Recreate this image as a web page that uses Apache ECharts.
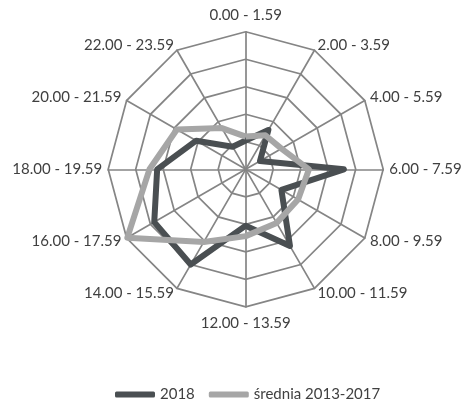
<!DOCTYPE html>
<html>
<head>
<meta charset="utf-8">
<script src="https://cdn.jsdelivr.net/npm/echarts@6/dist/echarts.min.js"></script>
<style>
  html, body { margin: 0; padding: 0; background: #ffffff; }
  #chart { width: 464px; height: 409px; }
</style>
</head>
<body>
<div id="chart"></div>
<script>
// Categories (time-of-day ranges), clockwise from the top
const categories = [
  '0.00 - 1.59', '2.00 - 3.59', '4.00 - 5.59', '6.00 - 7.59',
  '8.00 - 9.59', '10.00 - 11.59', '12.00 - 13.59', '14.00 - 15.59',
  '16.00 - 17.59', '18.00 - 19.59', '20.00 - 21.59', '22.00 - 23.59'
];
// Series values (in grid-ring units)
const values2018 = [1.05, 1.65, 0.6, 3.57, 1.5, 3.22, 2.05, 4.0, 3.84, 3.22, 2.08, 0.95];
const valuesAvg = [1.19, 1.43, 1.5, 2.3, 2.2, 2.25, 2.43, 3.05, 4.97, 3.5, 2.89, 1.73];
const seriesNames = ['2018', 'średnia 2013-2017'];
const axisMax = 5;

// ECharts lays radar indicators out counter-clockwise; reorder so the
// categories run clockwise from the top as in the reference.
function cw(arr) {
  return arr.map(function (_, i) { return arr[(arr.length - i) % arr.length]; });
}

const chart = echarts.init(document.getElementById('chart'), null, { renderer: 'canvas' });
const FONT = 'Lato';

chart.setOption({
  animation: false,
  backgroundColor: '#ffffff',
  legend: {
    data: seriesNames,
    bottom: 2,
    left: 110,
    itemWidth: 40,
    itemHeight: 6,
    itemGap: 14,
    icon: 'roundRect',
    textStyle: { fontFamily: FONT, fontSize: 15, color: '#404040' }
  },
  radar: {
    center: [245.7, 169.3],
    radius: 137.5,
    startAngle: 90,
    splitNumber: 5,
    shape: 'polygon',
    indicator: cw(categories).map(function (c) { return { name: c, max: axisMax, min: 0 }; }),
    axisName: {
      color: '#404040',
      fontFamily: FONT,
      fontSize: 15,
      formatter: function (name) {
        if (name === categories[0]) return '{top|' + name + '}';
        if (name === categories[6]) return '{bot|' + name + '}';
        return name;
      },
      rich: {
        top: { fontFamily: FONT, fontSize: 15, color: '#404040', padding: [0, 0, 3, 0] },
        bot: { fontFamily: FONT, fontSize: 15, color: '#404040', padding: [3, 0, 0, 0] }
      }
    },
    nameGap: 6,
    axisLine: { lineStyle: { color: '#858585', width: 1.7 } },
    splitLine: { lineStyle: { color: '#858585', width: 1.7 } },
    splitArea: { show: false },
    axisTick: { show: false },
    axisLabel: { show: false }
  },
  series: [{
    type: 'radar',
    symbol: 'none',
    data: [
      {
        name: seriesNames[0],
        value: cw(values2018),
        lineStyle: { color: '#4a4f52', width: 6, join: 'round' },
        itemStyle: { color: '#4a4f52' }
      },
      {
        name: seriesNames[1],
        value: cw(valuesAvg),
        lineStyle: { color: '#a6a6a6', width: 6, join: 'round' },
        itemStyle: { color: '#a6a6a6' }
      }
    ]
  }]
});
</script>
</body>
</html>
